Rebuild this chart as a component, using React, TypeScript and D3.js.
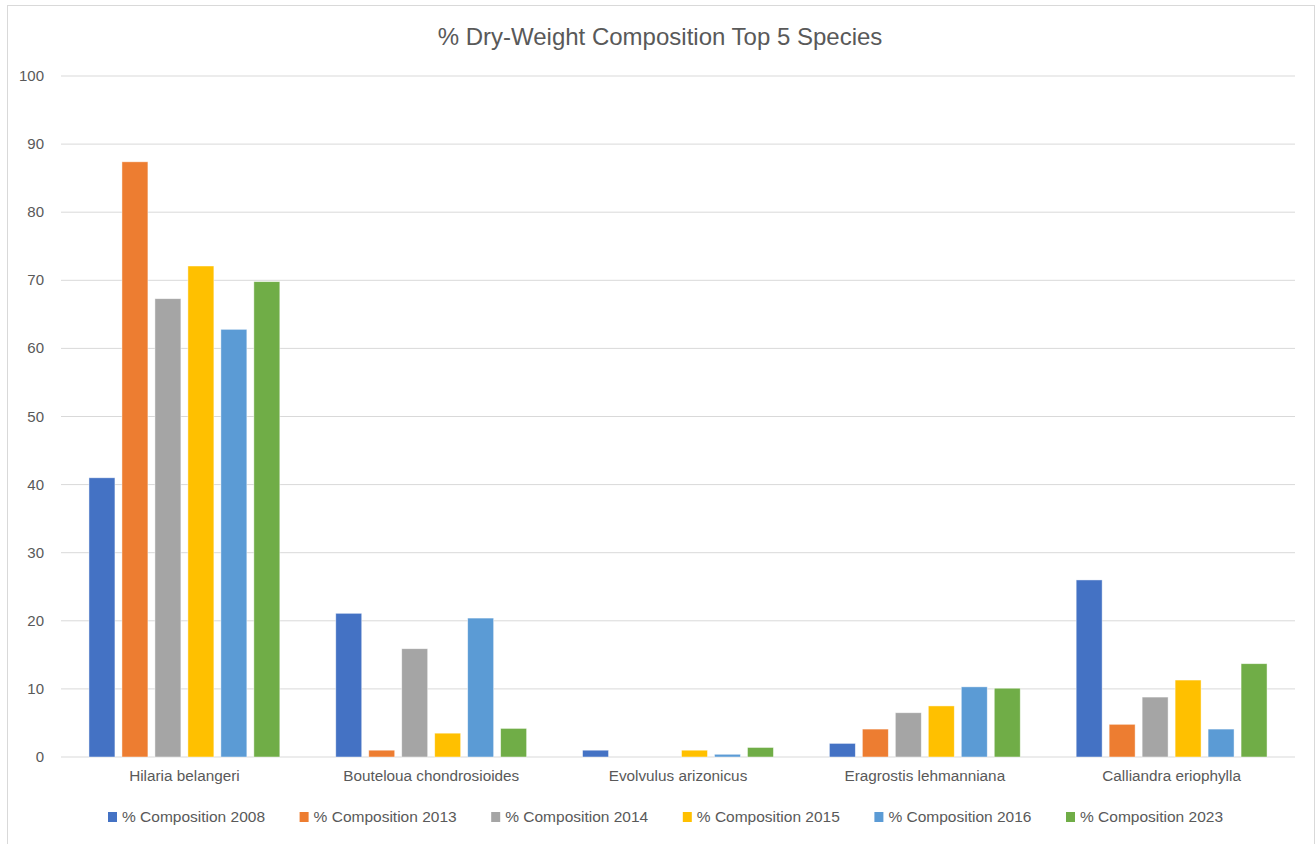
import * as d3 from "d3";

const species = [
  "Hilaria belangeri",
  "Bouteloua chondrosioides",
  "Evolvulus arizonicus",
  "Eragrostis lehmanniana",
  "Calliandra eriophylla",
];

const seriesNames = [
  "% Composition 2008",
  "% Composition 2013",
  "% Composition 2014",
  "% Composition 2015",
  "% Composition 2016",
  "% Composition 2023",
];

const comp2008 = [41.0, 21.1, 1.0, 2.0, 26.0];
const comp2013 = [87.4, 1.0, 0, 4.1, 4.8];
const comp2014 = [67.3, 15.9, 0, 6.5, 8.8];
const comp2015 = [72.1, 3.5, 1.0, 7.5, 11.3];
const comp2016 = [62.8, 20.4, 0.4, 10.3, 4.1];
const comp2023 = [69.8, 4.2, 1.4, 10.1, 13.7];

const seriesValues = [comp2008, comp2013, comp2014, comp2015, comp2016, comp2023];
const colors = ["#4472C4", "#ED7D31", "#A5A5A5", "#FFC000", "#5B9BD5", "#70AD47"];
const yTicks = [0, 10, 20, 30, 40, 50, 60, 70, 80, 90, 100];

const width = 1316;
const height = 844;
const font = "'Liberation Sans', Arial, sans-serif";
const textColor = "#595959";

export default function App() {
  const left = 61;
  const right = 1295;
  const top = 76;
  const bottom = 757;

  const x0 = d3.scaleBand<string>().domain(species).range([left, right]).padding(0);
  const x1 = d3
    .scaleBand<string>()
    .domain(seriesNames)
    .range([0, x0.bandwidth()])
    .paddingInner(0.27 / 1.27)
    .paddingOuter(0.848);
  const y = d3.scaleLinear().domain([0, 100]).range([bottom, top]);

  const legendStep = 191.6;
  const legendStart = 108;

  return (
    <svg
      width={width}
      height={height}
      style={{ position: "absolute", left: 0, top: 0, background: "#fff" }}
      fontFamily={font}
    >
      <rect x={7.5} y={5.5} width={1307} height={850} fill="#fff" stroke="#d9d9d9" />
      <text x={660} y={45} textAnchor="middle" fontSize={24} fill={textColor}>
        % Dry-Weight Composition Top 5 Species
      </text>

      {yTicks.map((t) => (
        <g key={t}>
          <line x1={left} x2={right} y1={y(t)} y2={y(t)} stroke="#d9d9d9" strokeWidth={1} />
          <text x={44} y={y(t) + 5} textAnchor="end" fontSize={15} fill={textColor}>
            {t}
          </text>
        </g>
      ))}

      {species.map((s, i) => (
        <g key={s} transform={`translate(${x0(s)},0)`}>
          {seriesNames.map((name, j) => {
            const v = seriesValues[j][i];
            if (v <= 0) return null;
            return (
              <rect
                key={name}
                x={x1(name)}
                y={y(v)}
                width={x1.bandwidth()}
                height={y(0) - y(v)}
                fill={colors[j]}
                stroke="#fff"
                strokeOpacity={0.6}
                strokeWidth={0.75}
              />
            );
          })}
          <text
            x={x0.bandwidth() / 2}
            y={781}
            textAnchor="middle"
            fontSize={15.3}
            fill={textColor}
          >
            {s}
          </text>
        </g>
      ))}

      {seriesNames.map((name, j) => (
        <g key={name} transform={`translate(${legendStart + j * legendStep},0)`}>
          <rect x={0} y={812} width={9} height={10} fill={colors[j]} />
          <text x={14} y={822} fontSize={15.5} fill={textColor}>
            {name}
          </text>
        </g>
      ))}
    </svg>
  );
}
